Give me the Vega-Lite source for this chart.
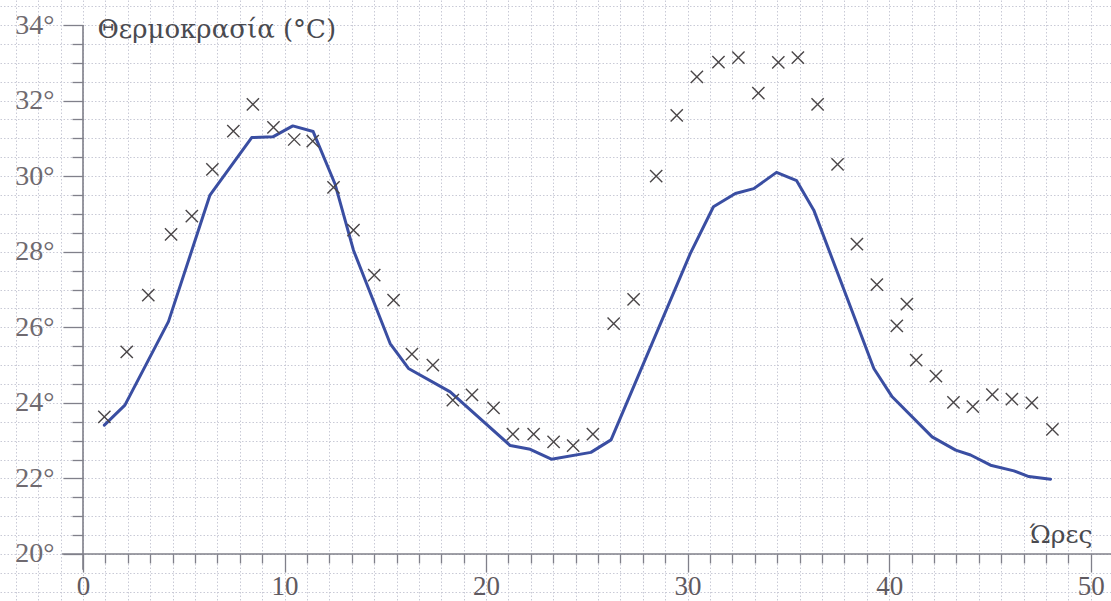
{
  "$schema": "https://vega.github.io/schema/vega-lite/v6.json",
  "width": 1111,
  "height": 601,
  "autosize": "none",
  "padding": 0,
  "background": "#ffffff",
  "config": {
    "view": {"stroke": null},
    "axis": {
      "labelFont": "Liberation Serif",
      "titleFont": "DejaVu Serif",
      "labelFlush": false,
      "labelOverlap": false,
      "tickColor": "#80808a",
      "tickWidth": 1.3
    }
  },
  "datasets": {
    "model": [
      {"h": 1.06, "T": 23.41}, {"h": 2.08, "T": 23.94}, {"h": 4.24, "T": 26.15},
      {"h": 6.30, "T": 29.50}, {"h": 8.37, "T": 31.02}, {"h": 9.42, "T": 31.04},
      {"h": 10.41, "T": 31.33}, {"h": 11.42, "T": 31.18}, {"h": 12.5, "T": 29.8},
      {"h": 13.42, "T": 28.04}, {"h": 15.24, "T": 25.57}, {"h": 16.15, "T": 24.91},
      {"h": 18.22, "T": 24.29}, {"h": 21.2, "T": 22.87}, {"h": 22.19, "T": 22.77},
      {"h": 23.24, "T": 22.51}, {"h": 25.2, "T": 22.69}, {"h": 26.2, "T": 23.02},
      {"h": 30.13, "T": 27.95}, {"h": 31.28, "T": 29.19}, {"h": 32.37, "T": 29.54},
      {"h": 33.28, "T": 29.67}, {"h": 34.41, "T": 30.10}, {"h": 35.41, "T": 29.88},
      {"h": 36.26, "T": 29.10}, {"h": 39.24, "T": 24.91}, {"h": 40.15, "T": 24.16},
      {"h": 42.13, "T": 23.10}, {"h": 43.3, "T": 22.75}, {"h": 44.04, "T": 22.62},
      {"h": 45.03, "T": 22.35}, {"h": 46.19, "T": 22.20}, {"h": 46.93, "T": 22.05},
      {"h": 48.01, "T": 21.98}
    ],
    "obs": [
      {"h": 1.06, "T": 23.63}, {"h": 2.17, "T": 25.35}, {"h": 3.24, "T": 26.85},
      {"h": 4.37, "T": 28.46}, {"h": 5.40, "T": 28.94}, {"h": 6.42, "T": 30.18},
      {"h": 7.46, "T": 31.19}, {"h": 8.43, "T": 31.90}, {"h": 9.45, "T": 31.29},
      {"h": 10.48, "T": 30.97}, {"h": 11.40, "T": 30.93}, {"h": 12.43, "T": 29.70},
      {"h": 13.42, "T": 28.57}, {"h": 14.45, "T": 27.38}, {"h": 15.41, "T": 26.72},
      {"h": 16.32, "T": 25.29}, {"h": 17.36, "T": 25.00}, {"h": 18.35, "T": 24.07},
      {"h": 19.30, "T": 24.21}, {"h": 20.37, "T": 23.87}, {"h": 21.33, "T": 23.17},
      {"h": 22.36, "T": 23.17}, {"h": 23.35, "T": 22.97}, {"h": 24.32, "T": 22.87},
      {"h": 25.30, "T": 23.17}, {"h": 26.33, "T": 26.10}, {"h": 27.32, "T": 26.74},
      {"h": 28.44, "T": 30.00}, {"h": 29.46, "T": 31.61}, {"h": 30.46, "T": 32.63},
      {"h": 31.53, "T": 33.02}, {"h": 32.52, "T": 33.14}, {"h": 33.51, "T": 32.20},
      {"h": 34.50, "T": 33.01}, {"h": 35.47, "T": 33.14}, {"h": 36.45, "T": 31.90},
      {"h": 37.44, "T": 30.31}, {"h": 38.40, "T": 28.20}, {"h": 39.39, "T": 27.13},
      {"h": 40.38, "T": 26.04}, {"h": 40.88, "T": 26.61}, {"h": 41.34, "T": 25.13},
      {"h": 42.32, "T": 24.71}, {"h": 43.19, "T": 24.01}, {"h": 44.15, "T": 23.90},
      {"h": 45.12, "T": 24.22}, {"h": 46.09, "T": 24.10}, {"h": 47.08, "T": 24.00},
      {"h": 48.10, "T": 23.30}
    ]
  },
  "layer": [
    {
      "description": "graph-paper grid",
      "data": {"name": "model"},
      "mark": {"type": "line", "opacity": 0},
      "encoding": {
        "x": {
          "field": "h", "type": "quantitative",
          "scale": {"domain": [-4.118, 51.007], "nice": false, "zero": false},
          "axis": {
            "orient": "bottom", "offset": 0, "title": null,
            "grid": true, "ticks": false, "labels": false, "domain": false,
            "gridColor": "#c9cad6", "gridDash": [1.5, 2], "gridWidth": 1,
            "values": [-3.333, -2.222, -1.111, 0, 1.111, 2.222, 3.333, 4.444, 5.556, 6.667, 7.778, 8.889, 10, 11.111, 12.222, 13.333, 14.444, 15.556, 16.667, 17.778, 18.889, 20, 21.111, 22.222, 23.333, 24.444, 25.556, 26.667, 27.778, 28.889, 30, 31.111, 32.222, 33.333, 34.444, 35.556, 36.667, 37.778, 38.889, 40, 41.111, 42.222, 43.333, 44.444, 45.556, 46.667, 47.778, 48.889, 50]
          }
        },
        "y": {
          "field": "T", "type": "quantitative",
          "scale": {"domain": [18.756, 34.662], "nice": false, "zero": false},
          "axis": {
            "orient": "left", "offset": 0, "title": null,
            "grid": true, "ticks": false, "labels": false, "domain": false,
            "gridColor": "#c9cad6", "gridDash": [1.5, 2], "gridWidth": 1,
            "values": [19, 19.5, 20, 20.5, 21, 21.5, 22, 22.5, 23, 23.5, 24, 24.5, 25, 25.5, 26, 26.5, 27, 27.5, 28, 28.5, 29, 29.5, 30, 30.5, 31, 31.5, 32, 32.5, 33, 33.5, 34, 34.5]
          }
        }
      }
    },
    {
      "description": "minor ticks",
      "data": {"name": "model"},
      "mark": {"type": "line", "opacity": 0},
      "encoding": {
        "x": {
          "field": "h", "type": "quantitative",
          "axis": {
            "orient": "bottom", "offset": -47, "title": null,
            "grid": false, "labels": false, "domain": false, "tickSize": 9,
            "values": [1.111, 2.222, 3.333, 4.444, 5.556, 6.667, 7.778, 8.889, 11.111, 12.222, 13.333, 14.444, 15.556, 16.667, 17.778, 18.889, 21.111, 22.222, 23.333, 24.444, 25.556, 26.667, 27.778, 28.889, 31.111, 32.222, 33.333, 34.444, 35.556, 36.667, 37.778, 38.889, 41.111, 42.222, 43.333, 44.444, 45.556, 46.667, 47.778, 48.889]
          }
        },
        "y": {
          "field": "T", "type": "quantitative",
          "axis": {
            "orient": "left", "offset": -83, "title": null,
            "grid": false, "labels": false, "domain": false, "tickSize": 11,
            "values": [20.5, 21, 21.5, 22.5, 23, 23.5, 24.5, 25, 25.5, 26.5, 27, 27.5, 28.5, 29, 29.5, 30.5, 31, 31.5, 32.5, 33, 33.5]
          }
        }
      }
    },
    {
      "description": "major ticks, labels and axis titles",
      "data": {"name": "model"},
      "mark": {"type": "line", "opacity": 0},
      "encoding": {
        "x": {
          "field": "h", "type": "quantitative",
          "axis": {
            "orient": "bottom", "offset": -47,
            "grid": false, "domain": false, "tickSize": 18,
            "values": [0, 10, 20, 30, 40, 50],
            "labelFontSize": 27, "labelColor": "#5f5a60",
            "labelBaseline": "bottom", "labelPadding": 28,
            "title": "Ώρες", "titleFontSize": 25, "titleFontWeight": "normal",
            "titleColor": "#4a4a4f", "titleAngle": 0, "titleAlign": "right",
            "titleBaseline": "alphabetic", "titleX": 1092, "titleY": -12
          }
        },
        "y": {
          "field": "T", "type": "quantitative",
          "axis": {
            "orient": "left", "offset": -83,
            "grid": false, "domain": false, "tickSize": 20,
            "values": [20, 22, 24, 26, 28, 30, 32, 34],
            "labelExpr": "datum.value + '°'",
            "labelFontSize": 28, "labelColor": "#6f6a70", "labelPadding": 9,
            "title": "Θερμοκρασία (°C)", "titleFontSize": 26, "titleFontWeight": "normal",
            "titleColor": "#4a4a4f", "titleAngle": 0, "titleAlign": "left",
            "titleBaseline": "middle", "titleX": 14, "titleY": 29
          }
        }
      }
    },
    {
      "description": "vertical axis line",
      "data": {"values": [{}]},
      "mark": {"type": "rule", "color": "#80808a", "strokeWidth": 1.6},
      "encoding": {
        "x": {"datum": 0, "type": "quantitative", "axis": null},
        "y": {"datum": 34, "type": "quantitative", "axis": null},
        "y2": {"datum": 19.58}
      }
    },
    {
      "description": "horizontal axis line",
      "data": {"values": [{}]},
      "mark": {"type": "rule", "color": "#80808a", "strokeWidth": 1.6},
      "encoding": {
        "x": {"datum": -1.04, "type": "quantitative", "axis": null},
        "x2": {"datum": 51.007},
        "y": {"datum": 20, "type": "quantitative", "axis": null}
      }
    },
    {
      "description": "computed temperature curve",
      "data": {"name": "model"},
      "mark": {"type": "line", "color": "#3a4ea2", "strokeWidth": 3, "strokeJoin": "round", "strokeCap": "round"},
      "encoding": {
        "x": {"field": "h", "type": "quantitative", "axis": null},
        "y": {"field": "T", "type": "quantitative", "axis": null}
      }
    },
    {
      "description": "measured temperatures",
      "data": {"name": "obs"},
      "mark": {
        "type": "point", "shape": "M-1,-1L1,1M-1,1L1,-1",
        "filled": false, "stroke": "#4a4648", "strokeWidth": 1.4,
        "size": 150, "opacity": 1
      },
      "encoding": {
        "x": {"field": "h", "type": "quantitative", "axis": null},
        "y": {"field": "T", "type": "quantitative", "axis": null}
      }
    }
  ],
  "resolve": {"axis": {"x": "independent", "y": "independent"}}
}
